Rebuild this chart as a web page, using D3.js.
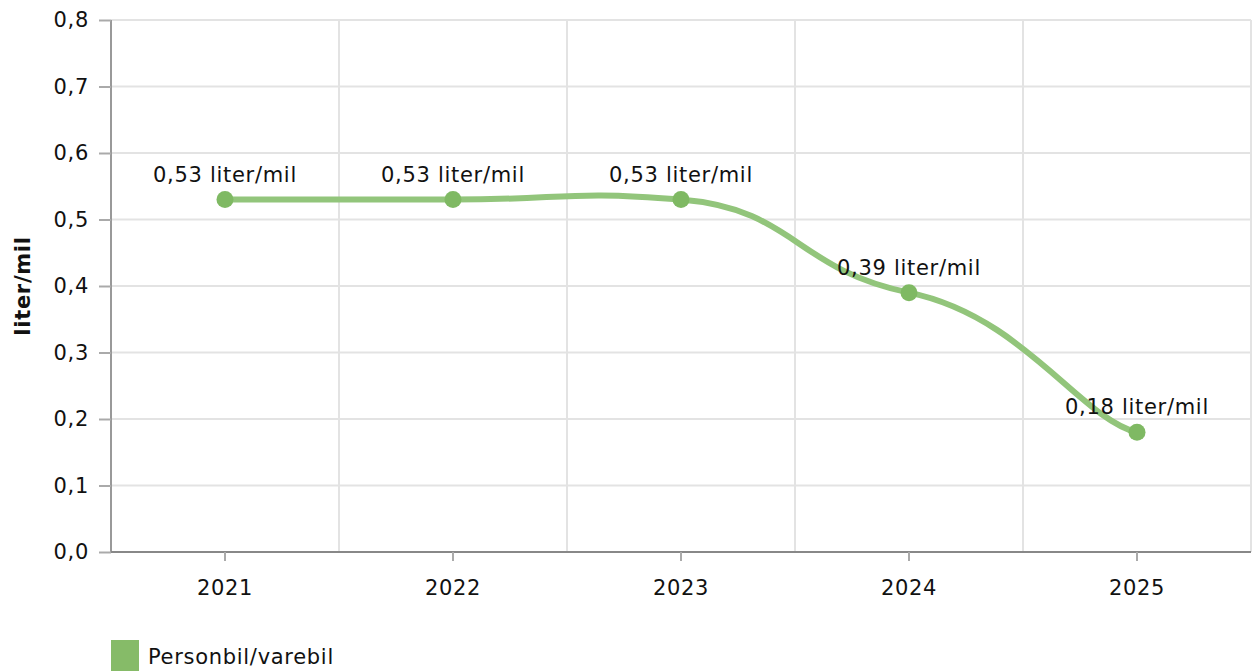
<!DOCTYPE html>
<html lang="no">
<head>
<meta charset="UTF-8">
<title>liter/mil</title>
<style>
  body, html { margin: 0; padding: 0; background: #ffffff; }
  svg text { font-family: "DejaVu Sans", Verdana, sans-serif; fill: #111; letter-spacing: 0.7px; }
</style>
</head>
<body>
<svg id="svg" width="1254" height="671"></svg>
<script src="https://d3js.org/d3.v7.min.js"></script>
<script>
const years = ['2021', '2022', '2023', '2024', '2025'];
const values = [0.53, 0.53, 0.53, 0.39, 0.18];
const yTicks = [0, 0.1, 0.2, 0.3, 0.4, 0.5, 0.6, 0.7, 0.8];
const seriesName = 'Personbil/varebil';
const unit = 'liter/mil';

const svg = d3.select('#svg');
const plotL = 111, plotR = 1251, plotT = 20, plotB = 552;
const FS = 21;

const x = d3.scaleBand().domain(years).range([plotL, plotR]);
const y = d3.scaleLinear().domain([0, 0.8]).range([plotB, plotT]);
const fmt = v => d3.format('.1f')(v).replace('.', ',');
const fmt2 = v => d3.format('.2f')(v).replace('.', ',');

// tension spline with separate x / y tension
function TensionCurve(context, tx, ty) { this._context = context; this._kx = 1 - tx; this._ky = 1 - ty; }
TensionCurve.prototype = {
  areaStart() {}, areaEnd() {},
  lineStart() { this._pts = []; },
  point(px, py) { this._pts.push([+px, +py]); },
  lineEnd() {
    const p = this._pts, n = p.length, ctx = this._context, kx = this._kx, ky = this._ky;
    if (!n) return;
    ctx.moveTo(p[0][0], p[0][1]);
    for (let i = 0; i < n - 1; i++) {
      const p0 = p[i - 1] || p[i], p1 = p[i], p2 = p[i + 1], p3 = p[i + 2] || p2;
      ctx.bezierCurveTo(
        p1[0] + kx * (p2[0] - p0[0]), p1[1] + ky * (p2[1] - p0[1]),
        p2[0] - kx * (p3[0] - p1[0]), p2[1] - ky * (p3[1] - p1[1]),
        p2[0], p2[1]);
    }
  }
};
const curveTension = ctx => new TensionCurve(ctx, 0.75, 0.9);

// grid
svg.append('g').selectAll('line')
  .data(yTicks.slice(1))
  .enter().append('line')
  .attr('x1', plotL).attr('x2', plotR)
  .attr('y1', d => y(d)).attr('y2', d => y(d))
  .attr('stroke', '#e3e3e3').attr('stroke-width', 2);

svg.append('g').selectAll('line')
  .data(years.slice(1).concat(['end']))
  .enter().append('line')
  .attr('x1', d => d === 'end' ? plotR : x(d))
  .attr('x2', d => d === 'end' ? plotR : x(d))
  .attr('y1', plotT).attr('y2', plotB)
  .attr('stroke', '#e3e3e3').attr('stroke-width', 2);

// y axis
const yAxis = svg.append('g')
  .attr('transform', `translate(${plotL},0)`)
  .call(d3.axisLeft(y).tickValues(yTicks).tickFormat(fmt).tickSize(12).tickPadding(10));
yAxis.select('.domain').attr('stroke', '#999').attr('stroke-width', 2).attr('d', `M0,${plotT}V${plotB}`);
yAxis.selectAll('.tick line').attr('stroke', '#aaa').attr('stroke-width', 2);
yAxis.selectAll('.tick text').attr('font-size', FS).style('font-family', '"DejaVu Sans", Verdana, sans-serif').attr('fill', '#111');

// x axis
const xAxis = svg.append('g')
  .attr('transform', `translate(0,${plotB})`)
  .call(d3.axisBottom(x).tickSize(9).tickPadding(19));
xAxis.select('.domain').attr('stroke', '#888').attr('stroke-width', 2).attr('d', `M${plotL},0H${plotR}`);
xAxis.selectAll('.tick line').attr('stroke', '#aaa').attr('stroke-width', 2);
xAxis.selectAll('.tick text').attr('font-size', FS).style('font-family', '"DejaVu Sans", Verdana, sans-serif').attr('fill', '#111');

// axis title
svg.append('text')
  .attr('transform', `translate(30,${(plotT + plotB) / 2}) rotate(-90)`)
  .attr('text-anchor', 'middle')
  .attr('font-size', FS).attr('font-weight', 'bold')
  .text(unit);

// line
const data = years.map((yr, i) => ({ yr, v: values[i] }));
const cx = d => x(d.yr) + x.bandwidth() / 2;
const line = d3.line()
  .x(cx).y(d => y(d.v))
  .curve(curveTension);

svg.append('path')
  .datum(data)
  .attr('d', line)
  .attr('fill', 'none')
  .attr('stroke', '#92c57b')
  .attr('stroke-width', 6)
  .attr('stroke-linecap', 'round');

svg.append('g').selectAll('circle')
  .data(data)
  .enter().append('circle')
  .attr('cx', cx).attr('cy', d => y(d.v))
  .attr('r', 8.5)
  .attr('fill', '#7fb963');

svg.append('g').selectAll('text')
  .data(data)
  .enter().append('text')
  .attr('x', cx).attr('y', d => y(d.v) - 18)
  .attr('text-anchor', 'middle')
  .attr('font-size', FS)
  .text(d => fmt2(d.v) + ' ' + unit);

// legend
svg.append('rect')
  .attr('x', 111).attr('y', 640).attr('width', 28).attr('height', 31)
  .attr('fill', '#86bb68');
svg.append('text')
  .attr('x', 148).attr('y', 664)
  .attr('font-size', FS)
  .text(seriesName);
</script>
</body>
</html>
